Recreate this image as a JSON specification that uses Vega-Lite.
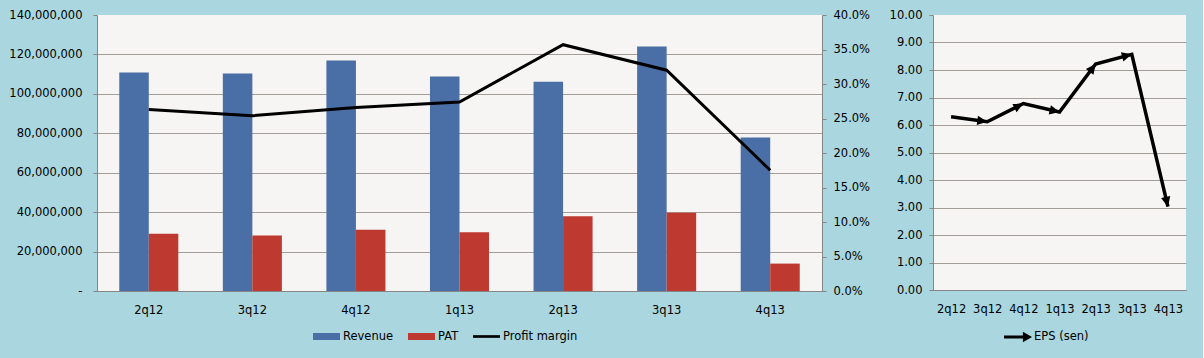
{
  "$schema": "https://vega.github.io/schema/vega-lite/v6.json",
  "background": "#a9d6df",
  "padding": {"left": 8, "top": 9, "right": 17, "bottom": 15},
  "datasets": {
    "q": [
      {"quarter": "2q12", "Revenue": 110800000, "PAT": 29100000, "margin": 0.263, "EPS": 6.30},
      {"quarter": "3q12", "Revenue": 110300000, "PAT": 28100000, "margin": 0.254, "EPS": 6.12},
      {"quarter": "4q12", "Revenue": 116900000, "PAT": 31100000, "margin": 0.266, "EPS": 6.78},
      {"quarter": "1q13", "Revenue": 108800000, "PAT": 29800000, "margin": 0.274, "EPS": 6.47},
      {"quarter": "2q13", "Revenue": 106200000, "PAT": 37900000, "margin": 0.357, "EPS": 8.22},
      {"quarter": "3q13", "Revenue": 124000000, "PAT": 39700000, "margin": 0.320, "EPS": 8.57},
      {"quarter": "4q13", "Revenue": 77900000, "PAT": 13900000, "margin": 0.175, "EPS": 3.03}
    ]
  },
  "config": {
    "font": "DejaVu Sans",
    "view": {"fill": "#f6f5f3", "stroke": null},
    "axis": {
      "labelFont": "DejaVu Sans",
      "labelFontSize": 11.5,
      "labelColor": "#000000",
      "domainColor": "#868686",
      "tickColor": "#868686",
      "gridColor": "#a39d97",
      "title": null
    },
    "legend": {
      "labelFont": "DejaVu Sans",
      "labelFontSize": 11.5,
      "labelColor": "#000000"
    }
  },
  "spacing": 19,
  "hconcat": [
    {
      "width": 725,
      "height": 276,
      "data": {"name": "q"},
      "encoding": {
        "x": {
          "field": "quarter", "type": "nominal", "sort": null,
          "scale": {"paddingInner": 0.43, "paddingOuter": 0.215},
          "axis": {"labelAngle": 0, "ticks": false, "tickSize": 0, "labelPadding": 13}
        }
      },
      "layer": [
        {
          "transform": [{"fold": ["Revenue", "PAT"], "as": ["series", "amount"]}],
          "mark": {"type": "bar"},
          "encoding": {
            "xOffset": {"field": "series", "type": "nominal", "sort": ["Revenue", "PAT"], "scale": {"paddingInner": 0}},
            "y": {
              "field": "amount", "type": "quantitative",
              "scale": {"domain": [0, 140000000], "nice": false},
              "axis": {
                "values": [0, 20000000, 40000000, 60000000, 80000000, 100000000, 120000000, 140000000],
                "labelExpr": "datum.value == 0 ? '-' : format(datum.value, ',')",
                "grid": true,
                "gridOpacity": {"condition": {"test": "datum.value >= 140000000", "value": 0}, "value": 1},
                "tickSize": 4,
                "labelPadding": 11
              }
            },
            "color": {
              "field": "series", "type": "nominal",
              "scale": {"domain": ["Revenue", "PAT", "Profit margin"], "range": ["#4a6ea6", "#be3a30", "#000000"]},
              "legend": {
                "orient": "none", "legendX": 216, "legendY": 308,
                "direction": "horizontal", "title": null,
                "symbolSize": 729, "columnPadding": 14, "labelOffset": 3,
                "symbolStrokeWidth": 0,
                "encode": {
                  "symbols": {
                    "update": {
                      "shape": {"signal": "datum.value === 'Profit margin' ? 'M-1,-0.1H1V0.1H-1Z' : 'M-1,-0.26H1V0.26H-1Z'"},
                      "fill": {"signal": "datum.value === 'Revenue' ? '#4a6ea6' : datum.value === 'PAT' ? '#be3a30' : '#000000'"},
                      "strokeWidth": {"value": 0},
                      "opacity": {"value": 1}
                    }
                  }
                }
              }
            }
          }
        },
        {
          "mark": {"type": "line", "strokeWidth": 3},
          "encoding": {
            "y": {
              "field": "margin", "type": "quantitative",
              "scale": {"domain": [0, 0.4], "nice": false},
              "axis": {
                "orient": "right", "format": ".1%", "grid": false,
                "values": [0, 0.05, 0.1, 0.15, 0.2, 0.25, 0.3, 0.35, 0.4],
                "tickSize": 4, "labelPadding": 7
              }
            },
            "color": {"datum": "Profit margin"}
          }
        }
      ],
      "resolve": {"scale": {"y": "independent"}}
    },
    {
      "width": 253,
      "height": 275,
      "data": {"name": "q"},
      "encoding": {
        "x": {
          "field": "quarter", "type": "nominal", "sort": null,
          "axis": {"labelAngle": 0, "ticks": false, "tickSize": 0, "labelPadding": 13}
        },
        "y": {
          "field": "EPS", "type": "quantitative",
          "scale": {"domain": [0, 10], "nice": false},
          "axis": {
            "values": [0, 1, 2, 3, 4, 5, 6, 7, 8, 9, 10],
            "format": ".2f",
            "grid": true,
            "gridOpacity": {"condition": {"test": "datum.value >= 10", "value": 0}, "value": 1},
            "tickSize": 4,
            "labelPadding": 7
          }
        }
      },
      "layer": [
        {
          "mark": {"type": "line", "strokeWidth": 3.5},
          "encoding": {
            "color": {
              "datum": "EPS (sen)",
              "scale": {"range": ["#000000"]},
              "legend": {
                "orient": "none", "legendX": 71, "legendY": 308,
                "direction": "horizontal", "title": null,
                "symbolSize": 784, "labelOffset": 2,
                "encode": {
                  "symbols": {
                    "update": {
                      "shape": {"value": "M-1,-0.11H0.35V-0.38L1,0L0.35,0.38V0.11H-1Z"},
                      "fill": {"value": "#000000"},
                      "strokeWidth": {"value": 0},
                      "opacity": {"value": 1}
                    }
                  }
                }
              }
            }
          }
        },
        {
          "transform": [
            {"window": [{"op": "lag", "field": "EPS", "as": "prev"}]},
            {"filter": "datum.prev != null"},
            {"calculate": "atan2(253 / 7, (datum.EPS - datum.prev) * 27.5) * 180 / PI", "as": "ang"}
          ],
          "mark": {"type": "point", "filled": true, "color": "#000000", "opacity": 1, "shape": "M0,0L-0.55,1.15L0.55,1.15Z", "size": 300},
          "encoding": {
            "angle": {"field": "ang", "type": "quantitative", "scale": null}
          }
        }
      ],
      "resolve": {"scale": {"color": "independent"}}
    }
  ],
  "resolve": {"scale": {"color": "independent"}, "legend": {"color": "independent"}}
}
